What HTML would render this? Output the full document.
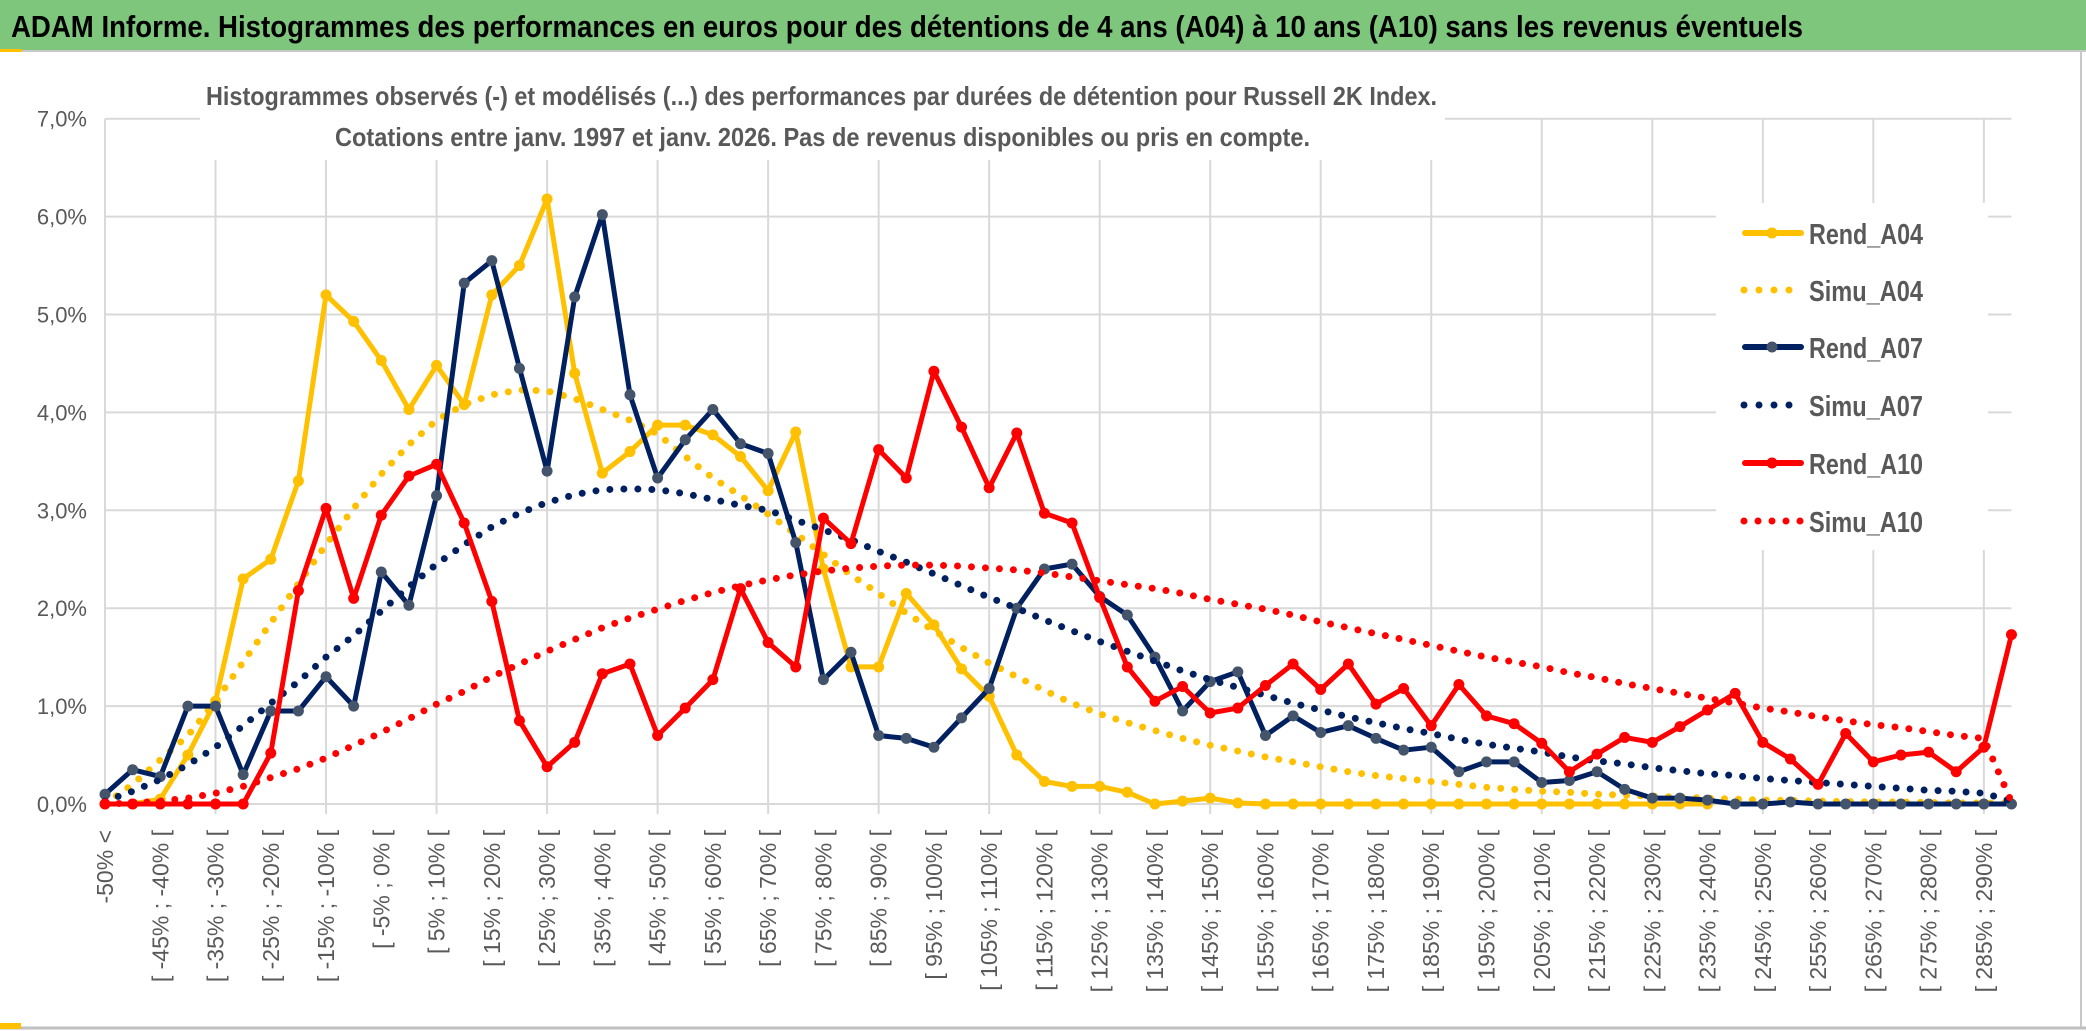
<!DOCTYPE html>
<html><head><meta charset="utf-8"><style>
html,body{margin:0;padding:0;background:#fff;}
svg{display:block;}
text{font-family:"Liberation Sans Narrow","Liberation Sans",sans-serif;}
</style></head><body>
<svg id="chart" width="2086" height="1031" viewBox="0 0 2086 1031" xmlns="http://www.w3.org/2000/svg">
  <rect x="0" y="0" width="2086" height="1031" fill="#fff"/>
  <rect x="0" y="0" width="2086" height="50" fill="#7dc67b"/>
  <line x1="0" y1="51" x2="2086" y2="51" stroke="#c8c8c8" stroke-width="2"/>
  <rect x="0" y="49" width="22" height="3" fill="#ffc000"/>
  <text x="11" y="37" font-size="31" font-weight="bold" fill="#000" textLength="1792" lengthAdjust="spacingAndGlyphs">ADAM Informe. Histogrammes des performances en euros pour des détentions de 4 ans (A04) à 10 ans (A10) sans les revenus éventuels</text>
  <line x1="2081" y1="52" x2="2081" y2="1027" stroke="#c8c8c8" stroke-width="2"/>
  <line x1="0" y1="1028" x2="2086" y2="1028" stroke="#bfbfbf" stroke-width="3"/>
  <rect x="0" y="1023" width="21" height="6" fill="#ffc000"/>
  <g id="grid"></g>
  <g id="ylabels"></g>
  <g id="xlabels"></g>
  <rect x="200" y="80" width="1245" height="80" fill="#fff"/>
  <text x="206" y="105" font-size="26" font-weight="bold" fill="#595959" textLength="1231" lengthAdjust="spacingAndGlyphs">Histogrammes observés (-) et modélisés (...) des performances par durées de détention pour Russell 2K Index.</text>
  <text x="335" y="146" font-size="26" font-weight="bold" fill="#595959" textLength="975" lengthAdjust="spacingAndGlyphs">Cotations entre janv. 1997 et janv. 2026. Pas de revenus disponibles ou pris en compte.</text>
  <rect x="1716" y="203" width="272" height="347" fill="#fff"/>
  <g id="series"></g>
  <g id="legend"></g>
</svg>
<script>
const categories = [];
for (let i = 0; i < 70; i++) {
  if (i === 0) categories.push("-50% <");
  else { const lo = -50 + (i - 1) * 5; categories.push("[ " + lo + "% ; " + (lo + 5) + "% ["); }
}
const yTicks = [0,1,2,3,4,5,6,7];
const yTickLabels = ["0,0%","1,0%","2,0%","3,0%","4,0%","5,0%","6,0%","7,0%"];
const rendA04 = [0,0,0.05,0.5,1.05,2.3,2.5,3.3,5.2,4.93, 4.53,4.03,4.48,4.08,5.2,5.5,6.18,4.4,3.38,3.6, 3.87,3.87,3.77,3.55,3.2,3.8,2.4,1.4,1.4,2.15, 1.83,1.38,1.1,0.5,0.23,0.18,0.18,0.12,0,0.03, 0.06,0.01,0,0,0,0,0,0,0,0, 0,0,0,0,0,0,0,0,0,null, null,null,null,null,null,null,null,null,null,null];
const simuA04 = [0,0.2,0.45,0.7,1.05,1.45,1.85,2.25,2.65,3.02, 3.37,3.67,3.92,4.08,4.18,4.23,4.22,4.14,4.03,3.92, 3.78,3.55,3.33,3.15,2.96,2.76,2.55,2.34,2.15,1.95, 1.77,1.6,1.44,1.3,1.16,1.03,0.92,0.83,0.75,0.67, 0.6,0.54,0.48,0.43,0.38,0.33,0.29,0.26,0.23,0.2, 0.17,0.15,0.13,0.12,0.1,0.09,0.08,0.07,0.06,0.05, 0.04,0.035,0.03,0.025,0.02,0.02,0.015,0.01,0.01,0.01];
const rendA07 = [0.1,0.35,0.28,1.0,1.0,0.3,0.95,0.95,1.3,1.0, 2.37,2.03,3.15,5.32,5.55,4.45,3.4,5.18,6.02,4.18, 3.33,3.72,4.03,3.68,3.58,2.67,1.27,1.55,0.7,0.67, 0.58,0.88,1.18,2.0,2.4,2.45,2.12,1.93,1.5,0.95, 1.25,1.35,0.7,0.9,0.73,0.8,0.67,0.55,0.58,0.33, 0.43,0.43,0.22,0.24,0.33,0.15,0.06,0.06,0.04,0, 0,0.02,0,0,0,0,0,0,0,0];
const simuA07 = [0.03,0.13,0.25,0.4,0.58,0.8,1.03,1.25,1.5,1.72, 1.97,2.22,2.45,2.65,2.83,2.97,3.08,3.16,3.21,3.22, 3.21,3.17,3.11,3.05,3.0,2.9,2.8,2.7,2.58,2.47, 2.35,2.23,2.11,2.0,1.88,1.77,1.66,1.56,1.46,1.36, 1.27,1.19,1.11,1.03,0.96,0.89,0.83,0.77,0.72,0.66, 0.61,0.57,0.53,0.48,0.44,0.41,0.37,0.34,0.31,0.29, 0.26,0.24,0.22,0.2,0.18,0.16,0.14,0.13,0.11,0.03];
const rendA10 = [0,0,0,0,0,0,0.52,2.18,3.02,2.1, 2.95,3.35,3.47,2.87,2.07,0.85,0.38,0.63,1.33,1.43, 0.7,0.98,1.27,2.2,1.65,1.4,2.92,2.66,3.62,3.33, 4.42,3.85,3.23,3.79,2.97,2.87,2.11,1.4,1.05,1.2, 0.93,0.98,1.21,1.43,1.17,1.43,1.02,1.18,0.8,1.22, 0.9,0.82,0.62,0.33,0.51,0.68,0.63,0.79,0.96,1.13, 0.63,0.46,0.2,0.72,0.43,0.5,0.53,0.33,0.58,1.73];
const simuA10 = [0,0.01,0.03,0.06,0.11,0.18,0.27,0.36,0.47,0.6, 0.73,0.87,1.02,1.15,1.3,1.43,1.56,1.68,1.8,1.9, 1.99,2.08,2.16,2.23,2.29,2.34,2.38,2.41,2.43,2.44, 2.44,2.43,2.41,2.39,2.36,2.32,2.28,2.24,2.2,2.15, 2.09,2.04,1.99,1.93,1.86,1.8,1.74,1.68,1.62,1.56, 1.5,1.45,1.4,1.34,1.29,1.23,1.18,1.13,1.08,1.03, 0.98,0.94,0.89,0.85,0.81,0.78,0.74,0.7,0.67,0.02];
const seriesNames = ["Rend_A04","Simu_A04","Rend_A07","Simu_A07","Rend_A10","Simu_A10"];

const NS = "http://www.w3.org/2000/svg";
const X0 = 105, XSTEP = 27.63, Y0 = 804, YUNIT = 97.9;
function xScale(i){ return X0 + i * XSTEP; }
function yScale(v){ return Y0 - v * YUNIT; }
function mk(tag, attrs, parent){ const e = document.createElementNS(NS, tag); for (const k in attrs) e.setAttribute(k, attrs[k]); parent.appendChild(e); return e; }

const grid = document.getElementById("grid");
const xEnd = xScale(categories.length - 1);
yTicks.forEach(t => {
  const l = mk("line", {x1: X0, x2: xEnd, y1: yScale(t), y2: yScale(t), stroke: "#d9d9d9", "stroke-width": 2}, grid);
  
  
});
for (let i = 0; i < categories.length; i += 4) {
  const l = mk("line", {x1: xScale(i), x2: xScale(i), y1: yScale(7), y2: Y0 + (i === 0 ? 0 : 10), stroke: "#d9d9d9", "stroke-width": 2}, grid);
  
  
}
const yl = document.getElementById("ylabels");
yTicks.forEach((t, k) => {
  const tx = mk("text", {x: 87, y: yScale(t) + 8, "text-anchor": "end", "font-size": 22, fill: "#595959"}, yl);
  tx.textContent = yTickLabels[k];
  
  
});
const xl = document.getElementById("xlabels");
categories.forEach((c, i) => {
  if (i % 2) return;
  const x = xScale(i) + 8, y = 830;
  const tx = mk("text", {x: x, y: y, "text-anchor": "end", "font-size": 23, fill: "#595959", transform: "rotate(-90 " + x + " " + y + ")", style: 'font-family:"Liberation Sans",sans-serif'}, xl);
  tx.textContent = c;
  
  
});

const sg = document.getElementById("series");
function drawSeries(vals, color, dotted, markerFill, name){
  const g = mk("g", {}, sg);
  
  
  let d = "", pts = [];
  vals.forEach((v, i) => { if (v === null) return; const p = [xScale(i), yScale(v)]; pts.push(p); d += (d ? "L" : "M") + p[0].toFixed(1) + "," + p[1].toFixed(1); });
  const path = mk("path", dotted ? {d: d, fill: "none", stroke: color, "stroke-width": 7, "stroke-linecap": "round", "stroke-dasharray": "0 14"} : {d: d, fill: "none", stroke: color, "stroke-width": 5, "stroke-linejoin": "round", "stroke-linecap": "round"}, g);
  
  
  if (!dotted) pts.forEach(p => {
    const c = mk("circle", {cx: p[0], cy: p[1], r: 5.5, fill: markerFill}, g);
    
    
  });
}
drawSeries(rendA04, "#ffc000", false, "#ffc000", "rend-a04");
drawSeries(simuA04, "#ffc000", true, null, "simu-a04");
drawSeries(rendA07, "#002060", false, "#44546a", "rend-a07");
drawSeries(simuA07, "#002060", true, null, "simu-a07");
drawSeries(rendA10, "#ff0000", false, "#ff0000", "rend-a10");
drawSeries(simuA10, "#ff0000", true, null, "simu-a10");

const lg = document.getElementById("legend");
const legColors = ["#ffc000","#ffc000","#002060","#002060","#ff0000","#ff0000"];
const legMark = ["#ffc000",null,"#44546a",null,"#ff0000",null];
const legY = [233,290,347,405,463,521];
seriesNames.forEach((n, k) => {
  const g = mk("g", {}, lg);
  
  
  const y = legY[k];
  if (legMark[k]) {
    mk("line", {x1: 1745, x2: 1801, y1: y, y2: y, stroke: legColors[k], "stroke-width": 6, "stroke-linecap": "round"}, g);
    mk("circle", {cx: 1772, cy: y, r: 5.5, fill: legMark[k]}, g);
  } else {
    const cnt = k === 5 ? 5 : 4;
    for (let j = 0; j < cnt; j++) mk("circle", {cx: 1744 + j * (k === 5 ? 14 : 15), cy: y, r: 3.5, fill: legColors[k]}, g);
  }
  const t = mk("text", {x: 1809, y: y + 11, "font-size": 29, "font-weight": "bold", fill: "#595959", textLength: 114, lengthAdjust: "spacingAndGlyphs"}, g);
  t.textContent = n;
});
</script>
</body></html>
